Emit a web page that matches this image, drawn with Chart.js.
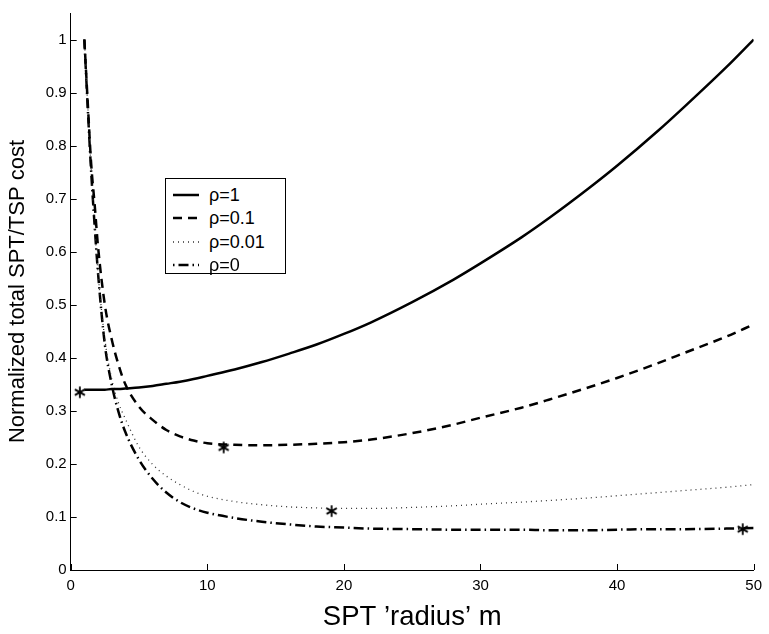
<!DOCTYPE html>
<html><head><meta charset="utf-8">
<script src="https://cdn.jsdelivr.net/npm/chart.js@4.4.0/dist/chart.umd.min.js"></script>
<style>
html,body{margin:0;padding:0;background:#fff;}
#wrap{position:relative;width:769px;height:634px;}
#legend{position:absolute;left:165px;top:178px;width:119px;height:94px;border:1.5px solid #000;background:#fff;font-family:"Liberation Sans",Arial,sans-serif;font-size:18px;color:#000;}
.row{position:absolute;left:0;height:22px;line-height:22px;}
.row svg{position:absolute;left:6px;top:0;}
.row span{position:absolute;left:43px;top:0;white-space:nowrap;}
</style></head>
<body>
<div id="wrap">
<canvas id="c" width="769" height="634"></canvas>
<div id="legend">
 <div class="row" style="top:5px"><svg width="28" height="22"><line x1="1" y1="11" x2="27" y2="11" stroke="#000" stroke-width="2.5"/></svg><span>ρ=1</span></div>
 <div class="row" style="top:28px"><svg width="28" height="22"><line x1="1" y1="11" x2="27" y2="11" stroke="#000" stroke-width="2.5" stroke-dasharray="9,6"/></svg><span>ρ=0.1</span></div>
 <div class="row" style="top:51.5px"><svg width="28" height="22"><line x1="1" y1="11" x2="27" y2="11" stroke="#333" stroke-width="1.3" stroke-dasharray="1,4"/></svg><span>ρ=0.01</span></div>
 <div class="row" style="top:74.5px"><svg width="28" height="22"><line x1="1" y1="11" x2="27" y2="11" stroke="#000" stroke-width="2.5" stroke-dasharray="1.5,4,10,4"/></svg><span>ρ=0</span></div>
</div>
</div>
<script>
// ---- data ----
const xValues = [1,1.25,1.5,1.75,2,2.5,3,3.5,4,5,6,7,8,9,10,12,14,16,18,20,22,25,28,30,33,35,38,40,43,45,48,50];
const rho1   = [0.340,0.340,0.340,0.340,0.340,0.340,0.341,0.341,0.342,0.344,0.347,0.351,0.355,0.360,0.366,0.378,0.392,0.408,0.425,0.445,0.467,0.505,0.547,0.578,0.627,0.663,0.721,0.762,0.828,0.875,0.948,1.000];
const rho01  = [1.0,0.88,0.765,0.69,0.61,0.50,0.435,0.387,0.350,0.308,0.283,0.264,0.252,0.244,0.239,0.236,0.235,0.236,0.238,0.241,0.246,0.258,0.274,0.287,0.306,0.321,0.345,0.362,0.390,0.410,0.440,0.463];
const rho001 = [1.0,0.875,0.755,0.65,0.56,0.435,0.36,0.315,0.285,0.232,0.199,0.177,0.161,0.148,0.139,0.129,0.123,0.119,0.117,0.116,0.116,0.118,0.121,0.124,0.128,0.131,0.136,0.140,0.146,0.150,0.156,0.161];
const rho0   = [1.0,0.87,0.75,0.65,0.56,0.425,0.35,0.298,0.26,0.208,0.172,0.146,0.128,0.116,0.108,0.098,0.091,0.086,0.082,0.080,0.078,0.077,0.076,0.076,0.076,0.075,0.075,0.076,0.077,0.077,0.078,0.079];
const starX = [0.67, 11.2, 19.1, 49.2];
const starY = [0.335, 0.231, 0.111, 0.077];
const xTicks = [0,10,20,30,40,50];
const yTicks = [0,0.1,0.2,0.3,0.4,0.5,0.6,0.7,0.8,0.9,1];
const seriesLabels = ['ρ=1','ρ=0.1','ρ=0.01','ρ=0'];

const pts = arr => xValues.map((x,i)=>({x:x,y:arr[i]}));

// asterisk marker
const star = document.createElement('canvas');
star.width = 14; star.height = 14;
(function(){
  const g = star.getContext('2d');
  g.strokeStyle = '#000'; g.lineWidth = 1.8; g.lineCap='butt';
  const c = 7, r = 5.8;
  [90, 30, 150].forEach(a=>{
    const t = a*Math.PI/180;
    g.beginPath();
    g.moveTo(c - r*Math.cos(t), c - r*Math.sin(t));
    g.lineTo(c + r*Math.cos(t), c + r*Math.sin(t));
    g.stroke();
  });
})();

const FONT = "'Liberation Sans', Arial, Helvetica, sans-serif";

const innerTicks = {
  id:'innerTicks',
  afterDraw(chart){
    const ctx = chart.ctx, xs = chart.scales.x, ys = chart.scales.y, a = chart.chartArea;
    ctx.save();
    ctx.strokeStyle = '#000'; ctx.lineWidth = 1;
    xTicks.forEach(v=>{
      const px = Math.round(xs.getPixelForValue(v))+0.5;
      ctx.beginPath(); ctx.moveTo(px, a.bottom); ctx.lineTo(px, a.bottom-6); ctx.stroke();
    });
    yTicks.forEach(v=>{
      const py = Math.round(ys.getPixelForValue(v))+0.5;
      ctx.beginPath(); ctx.moveTo(a.left, py); ctx.lineTo(a.left+6, py); ctx.stroke();
    });
    ctx.restore();
  }
};

new Chart(document.getElementById('c'), {
  type:'line',
  data:{
    datasets:[
      {label:seriesLabels[0], data:pts(rho1), borderColor:'#000', borderWidth:2.5, pointRadius:0, cubicInterpolationMode:'monotone'},
      {label:seriesLabels[1], data:pts(rho01), borderColor:'#000', borderWidth:2.5, borderDash:[9,6], pointRadius:0, cubicInterpolationMode:'monotone'},
      {label:seriesLabels[2], data:pts(rho001), borderColor:'#333', borderWidth:1.3, borderDash:[1,4], pointRadius:0, cubicInterpolationMode:'monotone'},
      {label:seriesLabels[3], data:pts(rho0), borderColor:'#000', borderWidth:2.5, borderDash:[10,4,1.5,4], pointRadius:0, cubicInterpolationMode:'monotone'},
      {label:'optimum', data:starX.map((x,i)=>({x:x,y:starY[i]})), showLine:false, pointStyle:star, pointRadius:7, borderColor:'#000', backgroundColor:'#000'}
    ]
  },
  options:{
    responsive:false, animation:false, devicePixelRatio:1,
    layout:{padding:{top:3,right:9,left:0,bottom:0}},
    plugins:{legend:{display:false}, tooltip:{enabled:false}},
    scales:{
      x:{type:'linear', min:0, max:50,
         afterBuildTicks:s=>{s.ticks = xTicks.map(v=>({value:v}));},
         afterFit:s=>{s.height = 64;},
         grid:{display:false, drawTicks:false},
         border:{display:true,color:'#000',width:1},
         ticks:{color:'#000', padding:7, maxRotation:0, font:{family:FONT,size:15}, callback:v=>String(v)},
         title:{display:true, text:"SPT ’radius’ m", color:'#000', font:{family:FONT,size:27.5}, padding:{top:0,bottom:0}}
      },
      y:{type:'linear', min:0, max:1.05,
         afterBuildTicks:s=>{s.ticks = yTicks.map(v=>({value:v}));},
         afterFit:s=>{s.width = 70.7;},
         grid:{display:false, drawTicks:false},
         border:{display:true,color:'#000',width:1},
         ticks:{color:'#000', padding:4, font:{family:FONT,size:15}, callback:v=>String(Number(v.toFixed(2)))},
         title:{display:true, text:'Normalized total SPT/TSP cost', color:'#000', font:{family:FONT,size:22}, padding:{top:5,bottom:0}}
      }
    }
  },
  plugins:[innerTicks]
});
</script>
</body></html>
